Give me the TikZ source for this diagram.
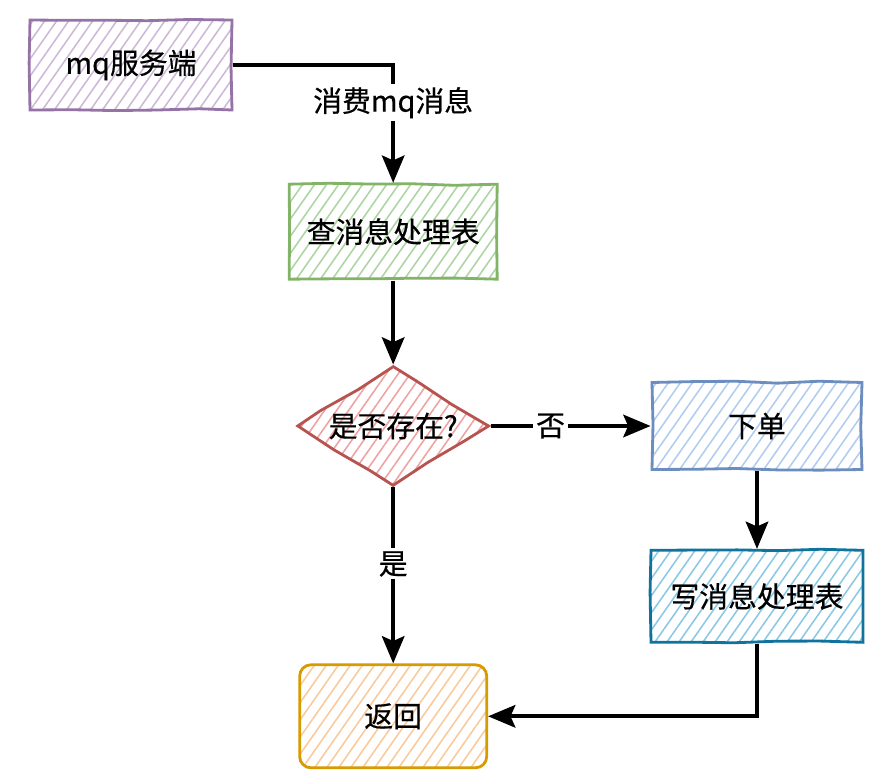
\documentclass[tikz,border=0pt]{standalone}
\usepackage{fontspec}
\newfontfamily\cjk[FakeBold=0.5]{Noto Sans CJK SC}
\usepackage{tikz}
\usetikzlibrary{shapes.geometric,arrows.meta,positioning,patterns.meta,decorations.pathmorphing}
\definecolor{mqline}{RGB}{150,115,166}
\definecolor{mqfill}{RGB}{205,185,215}
\definecolor{checkline}{RGB}{130,179,102}
\definecolor{checkfill}{RGB}{172,213,162}
\definecolor{existline}{RGB}{184,84,80}
\definecolor{existfill}{RGB}{240,162,162}
\definecolor{orderline}{RGB}{108,142,191}
\definecolor{orderfill}{RGB}{178,204,240}
\definecolor{writeline}{RGB}{16,115,158}
\definecolor{writefill}{RGB}{138,200,230}
\definecolor{backline}{RGB}{215,155,0}
\definecolor{backfill}{RGB}{250,202,155}

\begin{document}
\pgfmathsetseed{7}
\begin{tikzpicture}[
    hatch/.style={draw=#1line, line width=2pt, pattern={Lines[angle=55,distance=7pt,line width=1.1pt]}, pattern color=#1fill},
    sketch/.style={hatch=#1, decorate, decoration={random steps, segment length=30pt, amplitude=0.9pt}},
    module/.style={rectangle, font=\cjk\fontsize{20.5}{24}\selectfont, text=black, align=center, inner sep=0pt},
    arrow/.style={-{Stealth[length=0.68cm,width=0.56cm,inset=0.12cm]}, line width=2.9pt},
    lbl/.style={font=\cjk\fontsize{20.5}{24}\selectfont, fill=white, inner sep=2pt}
]
\fill[white] (0,0) rectangle (22,-19.275);
\useasboundingbox (0,0) rectangle (22,-19.275);

% Top: mq server and lookup
\node[module, sketch=mq, minimum width=5.05cm, minimum height=2.25cm] (mq) at (3.275,-1.625) {mq服务端};
\node[module, sketch=check, minimum width=5.2cm, minimum height=2.375cm, below right=1.8cm and 1.375cm of mq] (check) {查消息处理表};

% Decision
\node[module, diamond, aspect=1.6, sketch=exist, minimum width=4.8cm, minimum height=3cm, below=2.1cm of check] (exist) {是否存在?};

% Right branch
\node[module, sketch=order, minimum width=5.25cm, minimum height=2.175cm, right=4cm of exist] (order) {下单};
\node[module, sketch=write, minimum width=5.3cm, minimum height=2.3cm, below=1.95cm of order] (write) {写消息处理表};

% Return
\node[module, hatch=back, rounded corners=8pt, minimum width=4.675cm, minimum height=2.575cm, below=4.4cm of exist] (back) {返回};

% Arrows
\draw[arrow] (mq.east) -| node[lbl, pos=0.66] {消费mq消息} (check.north);
\draw[arrow] (check) -- (exist);
\draw[arrow] (exist) -- node[lbl, pos=0.375] {否} (order);
\draw[arrow] (exist) -- node[lbl, pos=0.435] {是} (back);
\draw[arrow] (order) -- (write);
\draw[arrow] (write.south) |- (back.east);

\end{tikzpicture}
\end{document}
